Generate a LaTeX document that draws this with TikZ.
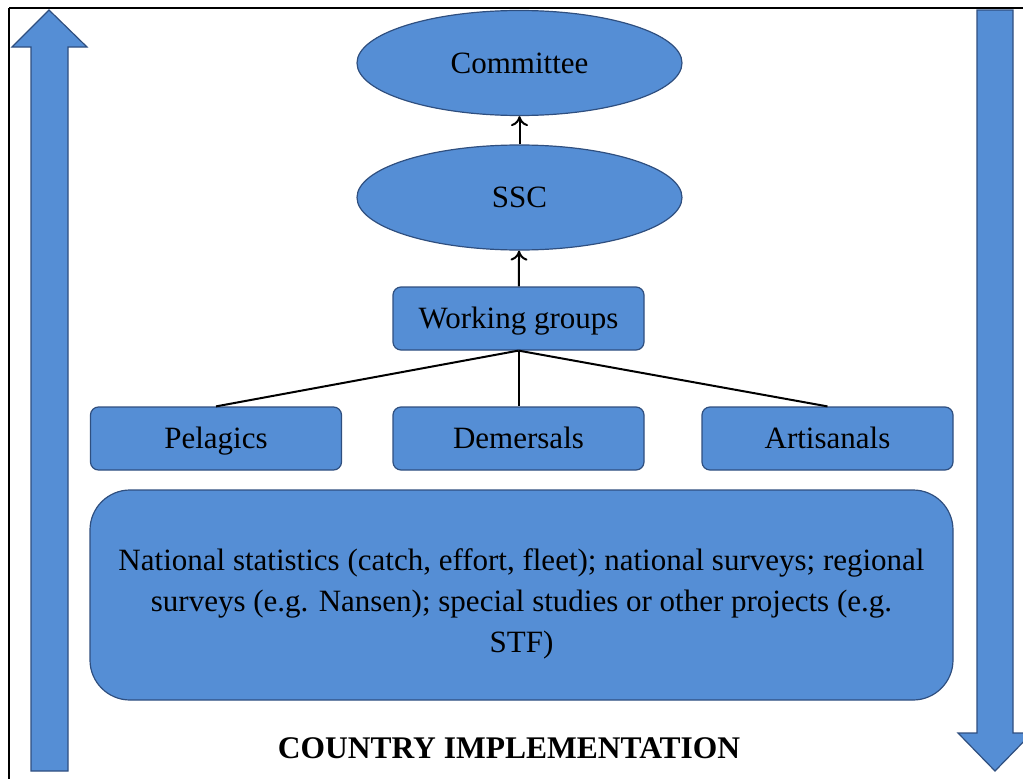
\documentclass[tikz,border=0pt]{standalone}
\usepackage{fontspec}
\setmainfont{Liberation Serif}
\usetikzlibrary{shapes.geometric,arrows.meta}
\definecolor{boxfill}{HTML}{558ED5}
\definecolor{boxline}{HTML}{2F4F7F}
\tikzset{
  oval/.style={ellipse, draw=boxline, fill=boxfill, line width=1.2pt,
    minimum width=325pt, minimum height=105pt, inner sep=0pt,
    text height=24pt, text depth=4pt,
    font=\fontsize{31}{37}\selectfont},
  rbox/.style={rectangle, rounded corners=8pt, draw=boxline, fill=boxfill, line width=1.2pt,
    minimum width=251pt, minimum height=63pt, inner sep=0pt,
    text height=24pt, text depth=4pt,
    font=\fontsize{31}{37}\selectfont},
  bigbox/.style={rectangle, rounded corners=40pt, draw=boxline, fill=boxfill, line width=1.2pt,
    minimum width=863pt, minimum height=210pt, inner sep=0pt},
  bigtext/.style={inner sep=0pt, align=center, font=\fontsize{31}{41}\selectfont},
  shape arrow/.style={draw=boxline, fill=boxfill, line width=1.2pt, line join=miter},
  link/.style={line width=2pt, black},
  uparrow/.style={link, -{To[length=10pt,width=17pt,line width=2pt]}},
}
\begin{document}
\begin{tikzpicture}[x=1pt,y=-1pt]
\useasboundingbox (0,0) rectangle (1023,779);
\clip (0,0) rectangle (1023,779);
% frame
\draw[line width=2.5pt] (9,8) -- (1040,8);
\draw[line width=2.5pt] (9,8) -- (9,800);
% side arrows
\path[shape arrow] (49,10) -- (87,47) -- (68,47) -- (68,771) -- (31,771) -- (31,47) -- (12,47) -- cycle;
\path[shape arrow] (977,10) -- (1013,10) -- (1013,733) -- (1032,733) -- (995,771) -- (958,733) -- (977,733) -- cycle;
% nodes
\node[oval] (committee) at (519.5,63) {Committee};
\node[oval] (ssc) at (519.5,197.5) {SSC};
\node[rbox] (wg) at (518.5,318.5) {Working groups};
\node[rbox] (pel) at (216,438.5) {Pelagics};
\node[rbox] (dem) at (518.5,438.5) {Demersals};
\node[rbox] (art) at (827.5,438.5) {Artisanals};
\node[bigbox] (nat) at (521.5,595) {};
\node[bigtext] (natlabel) at (521.5,604) {National statistics (catch, effort, fleet); national surveys; regional\\surveys (e.g. Nansen); special studies or other projects (e.g.\\STF)};
\node[font=\bfseries\fontsize{31.5}{37}\selectfont, inner sep=0pt] (country) at (509,748) {COUNTRY IMPLEMENTATION};
% connectors
\draw[uparrow] (ssc) -- (committee);
\draw[uparrow] (wg) -- (ssc);
\draw[link] (wg.south) -- (pel.north);
\draw[link] (wg.south) -- (dem.north);
\draw[link] (wg.south) -- (art.north);
\end{tikzpicture}
\end{document}
